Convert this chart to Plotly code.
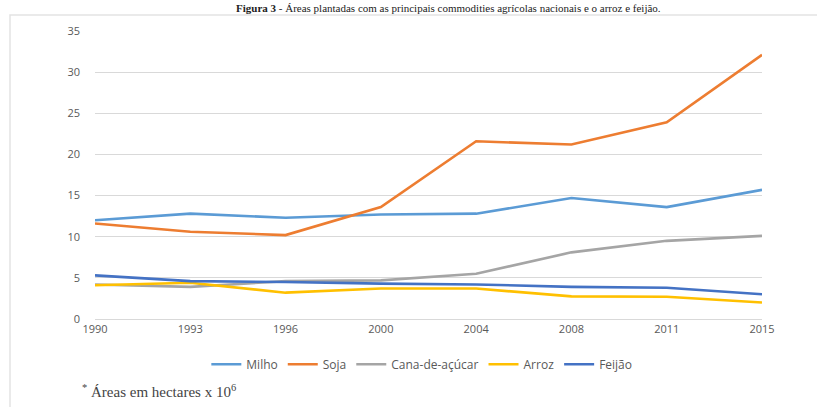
import plotly.graph_objects as go

years = ["1990", "1993", "1996", "2000", "2004", "2008", "2011", "2015"]
milho = [12.0, 12.8, 12.3, 12.7, 12.8, 14.7, 13.6, 15.7]
soja = [11.6, 10.6, 10.2, 13.6, 21.6, 21.2, 23.9, 32.1]
cana = [4.2, 3.9, 4.6, 4.7, 5.5, 8.1, 9.5, 10.1]
arroz = [4.1, 4.4, 3.2, 3.7, 3.7, 2.75, 2.7, 2.0]
feijao = [5.3, 4.6, 4.5, 4.3, 4.2, 3.9, 3.8, 3.0]

series = [
    ("Milho", milho, "#5B9BD5"),
    ("Soja", soja, "#ED7D31"),
    ("Cana-de-açúcar", cana, "#A5A5A5"),
    ("Arroz", arroz, "#FFC000"),
    ("Feijão", feijao, "#4472C4"),
]

fig = go.Figure()
for name, vals, col in series:
    fig.add_trace(go.Scatter(x=list(range(len(years))), y=vals, name=name, mode="lines",
                             line=dict(color=col, width=2.6)))

fig.update_layout(
    width=817, height=407,
    margin=dict(l=95, r=55, t=31, b=88),
    paper_bgcolor="white", plot_bgcolor="white",
    font=dict(family="Open Sans, sans-serif", color="#595959", size=11),
    showlegend=True,
    legend=dict(orientation="h", x=0.49, xanchor="center", y=-0.157, yanchor="middle",
                font=dict(size=12, color="#595959"), itemwidth=30, tracegroupgap=0),
    xaxis=dict(tickmode="array", tickvals=list(range(len(years))), ticktext=years,
               range=[0, len(years) - 1], showgrid=False, zeroline=False,
               showline=True, linecolor="#D9D9D9", linewidth=1, ticks="",
               tickfont=dict(size=11, color="#595959")),
    yaxis=dict(range=[0, 35], dtick=5, showgrid=True, gridcolor="#D9D9D9", gridwidth=1,
               zeroline=False, showline=False, ticks="", ticklabelstandoff=14,
               tickfont=dict(size=11, color="#595959")),
    shapes=[dict(type="rect", xref="paper", yref="paper",
                 x0=(10 - 95) / 667, x1=(830 - 95) / 667,
                 y0=(319 - 420) / 288, y1=(319 - 15) / 288,
                 line=dict(color="#E3E3E3", width=1.5), layer="below")],
    annotations=[
        dict(text="<b>Figura 3</b> - Áreas plantadas com as principais commodities agrícolas nacionais e o arroz e feijão.",
             xref="paper", yref="paper", x=(448 - 95) / 667, y=(319 - 8) / 288,
             xanchor="center", yanchor="middle", showarrow=False,
             font=dict(family="Liberation Serif, serif", size=11, color="#222222")),
        dict(text="<sup>*</sup> Áreas em hectares x 10<sup>6</sup>",
             xref="paper", yref="paper", x=(80 - 95) / 667, y=(319 - 391) / 288,
             xanchor="left", yanchor="middle", showarrow=False,
             font=dict(family="Liberation Serif, serif", size=15, color="#444444")),
    ],
)

fig.write_html("out.html")
